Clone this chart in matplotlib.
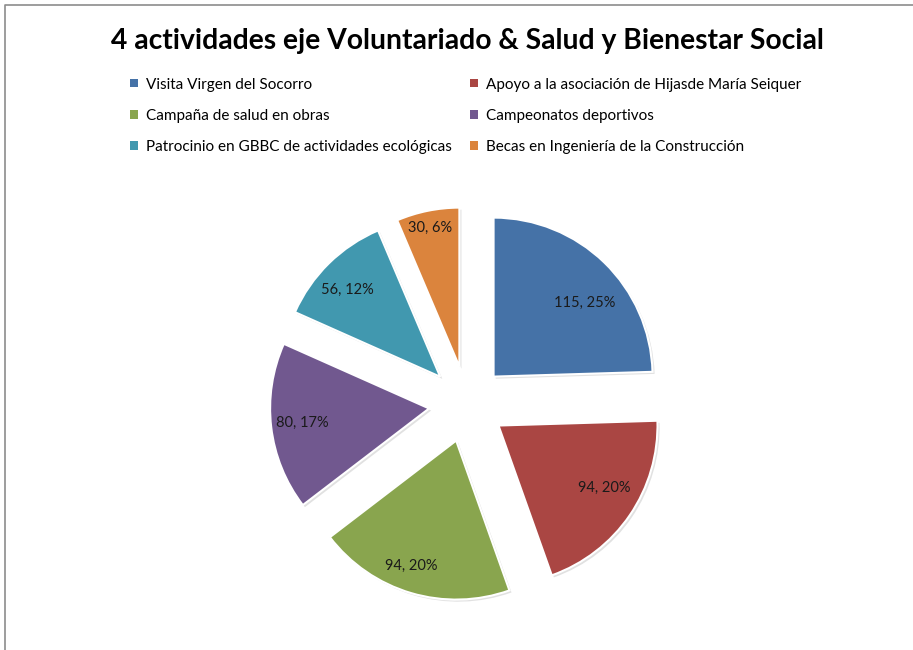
import numpy as np
import matplotlib
matplotlib.use("Agg")
import matplotlib.pyplot as plt
import matplotlib.patheffects as pe
from matplotlib.lines import Line2D
from matplotlib.patches import Patch

plt.rcParams['font.family'] = ['Lato', 'DejaVu Sans']

# data
actividades = ['Visita Virgen del Socorro',
               'Apoyo a la asociación de Hijasde María Seiquer',
               'Campaña de salud en obras',
               'Campeonatos deportivos',
               'Patrocinio en GBBC de actividades ecológicas',
               'Becas en Ingeniería de la Construcción']
valores = [115, 94, 94, 80, 56, 30]
colores = ['#4572A7', '#AA4643', '#89A54E', '#71588F', '#4198AF', '#DB843D']
titulo = '4 actividades eje Voluntariado & Salud y Bienestar Social'

# label placement: radius (fraction of R from each wedge vertex) and clockwise angle tweak
label_r = [0.74, 0.77, 0.84, 0.80, 0.80, 0.89]
label_dang = [6.9, -3.7, 3.3, 0.4, -2.4, -0.4]

W, H = 913, 650
R = 159.0
cx, cy = 467, 404   # pixel centre of the pie (from top-left)

fig = plt.figure(figsize=(W / 100, H / 100), dpi=100)
ax = fig.add_axes([0, 0, 1, 1])

wedges, _ = ax.pie(valores, colors=colores, startangle=90, counterclock=False,
                   explode=[0.24] * len(valores), radius=1,
                   wedgeprops=dict(edgecolor='white', linewidth=1.5))
for w in wedges:
    w.set_path_effects([pe.SimplePatchShadow(offset=(1.5, -1.5), shadow_rgbFace='#888888', alpha=0.25),
                        pe.Normal()])

total = sum(valores)
for w, v, f, da in zip(wedges, valores, label_r, label_dang):
    mid = np.deg2rad((w.theta1 + w.theta2) / 2 - da)
    x = w.center[0] + f * w.r * np.cos(mid)
    y = w.center[1] + f * w.r * np.sin(mid)
    ax.text(x, y, f"{v}, {round(100 * v / total)}%", ha='center', va='center',
            fontsize=10.5, color='#1a1a1a')

ax.set_aspect('auto')
ax.set_xlim(-cx / R, (W - cx) / R)
ax.set_ylim(-(H - cy) / R, cy / R)
ax.axis('off')

fig.text(467 / W, 1 - 41 / H, titulo, ha='center', va='center',
         fontsize=20.3, fontweight='bold', color='black')

order = [0, 2, 4, 1, 3, 5]
handles = [Patch(facecolor=colores[i], edgecolor='none') for i in order]
fig.legend(handles, [actividades[i] for i in order],
           ncol=2, loc='upper left', bbox_to_anchor=(130 / W, 1 - 77.5 / H),
           frameon=False, fontsize=11, handlelength=0.5, handleheight=0.5,
           handletextpad=0.55, columnspacing=1.18, labelspacing=1.12,
           borderpad=0, borderaxespad=0)

# outer frame (only left/top visible)
fig.add_artist(Line2D([5 / W, 5 / W, 1], [0, 1 - 5 / H, 1 - 5 / H],
                      transform=fig.transFigure, color='#8c8c8c', lw=1.2))

fig.savefig('out.png', dpi=100)
